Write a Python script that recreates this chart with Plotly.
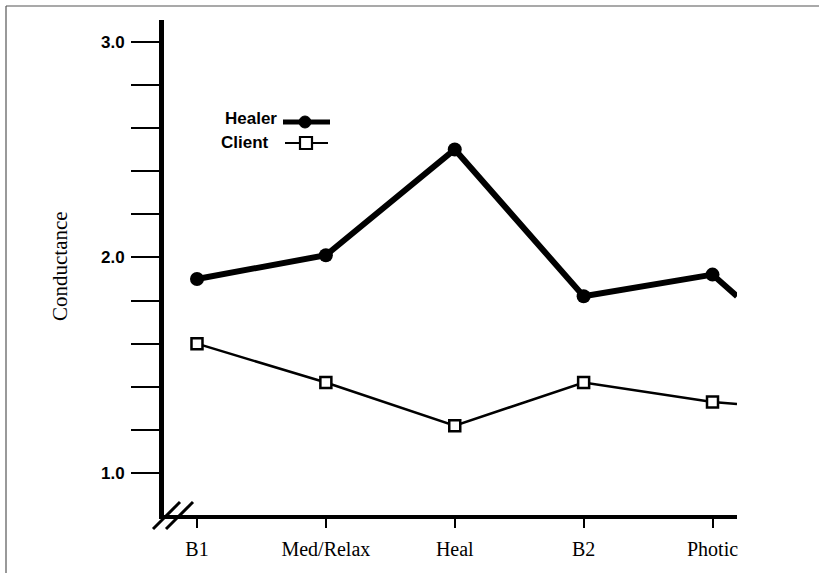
import plotly.graph_objects as go

# ---- data ----
categories = ["B1", "Med/Relax", "Heal", "B2", "Photic"]
healer = [1.90, 2.01, 2.50, 1.82, 1.92]
client = [1.60, 1.42, 1.22, 1.42, 1.33]
# values where the lines are cut off just to the right of "Photic"
healer_tail = 1.82
client_tail = 1.32
tail_offset = 0.19  # fraction of a category step past the last category

y_tickvals = [1.0, 1.2, 1.4, 1.6, 1.8, 2.0, 2.2, 2.4, 2.6, 2.8, 3.0]
y_ticktext = ["1.0", "", "", "", "", "2.0", "", "", "", "", "3.0"]

W, H = 819, 573
ML, MT = 164, 20
MR = W - 737
MB = H - 515
PW, PH = W - ML - MR, H - MT - MB


def px(x):
    return (x - ML) / PW


def py(y):
    return (H - MB - y) / PH


xs = list(range(len(categories)))
x_line = xs + [xs[-1] + tail_offset]

fig = go.Figure()
fig.add_trace(go.Scatter(
    x=x_line, y=healer + [healer_tail], mode="lines+markers",
    line=dict(color="black", width=6),
    marker=dict(symbol="circle", size=[14] * len(xs) + [0], color="black",
                line=dict(width=0), opacity=1),
    showlegend=False, hoverinfo="skip"))
fig.add_trace(go.Scatter(
    x=x_line, y=client + [client_tail], mode="lines+markers",
    line=dict(color="black", width=2.5),
    marker=dict(symbol="square", size=[11] * len(xs) + [0], color="white",
                line=dict(color="black", width=2.5), opacity=1),
    showlegend=False, hoverinfo="skip"))

shapes = []
# frame (top and left edges of the scanned page)
shapes.append(dict(type="line", xref="paper", yref="paper",
                   x0=px(6), x1=px(830), y0=py(6), y1=py(6),
                   line=dict(color="#555", width=1.2)))
shapes.append(dict(type="line", xref="paper", yref="paper",
                   x0=px(6), x1=px(6), y0=py(6), y1=py(580),
                   line=dict(color="#555", width=1.2)))
# axis break slashes
for dx in (0, 13):
    shapes.append(dict(type="line", xref="paper", yref="paper",
                       x0=px(153 + dx), x1=px(180 + dx), y0=py(529), y1=py(502),
                       line=dict(color="black", width=3)))
# legend samples
shapes.append(dict(type="line", xref="paper", yref="paper",
                   x0=px(283), x1=px(330), y0=py(122), y1=py(122),
                   line=dict(color="black", width=5)))
shapes.append(dict(type="circle", xref="paper", yref="paper",
                   x0=px(299), x1=px(311), y0=py(116), y1=py(128),
                   fillcolor="black", line=dict(color="black", width=1)))
shapes.append(dict(type="line", xref="paper", yref="paper",
                   x0=px(285), x1=px(328), y0=py(143), y1=py(143),
                   line=dict(color="black", width=2.2)))
shapes.append(dict(type="rect", xref="paper", yref="paper",
                   x0=px(300), x1=px(312), y0=py(137), y1=py(149),
                   fillcolor="white", line=dict(color="black", width=2.2)))

annotations = [
    dict(text="<b>Healer</b>", xref="paper", yref="paper", x=px(279), y=py(119),
         xanchor="right", yanchor="middle", showarrow=False,
         font=dict(family="Liberation Sans, Arial", size=17, color="black")),
    dict(text="<b>Client</b>", xref="paper", yref="paper", x=px(271), y=py(142),
         xanchor="right", yanchor="middle", showarrow=False,
         font=dict(family="Liberation Sans, Arial", size=17, color="black")),
    dict(text="Conductance", xref="paper", yref="paper", x=px(60), y=py(266),
         xanchor="center", yanchor="middle", showarrow=False, textangle=-90,
         font=dict(family="Liberation Serif, Times New Roman", size=21, color="black")),
]

fig.update_layout(
    width=W, height=H,
    margin=dict(l=ML, r=MR, t=MT, b=MB, pad=0),
    paper_bgcolor="white", plot_bgcolor="white",
    shapes=shapes, annotations=annotations,
    xaxis=dict(range=[-0.256, xs[-1] + tail_offset], tickvals=xs, ticktext=categories,
               showgrid=False, zeroline=False, showline=True, linecolor="black",
               linewidth=4, ticks="outside", ticklen=9, tickwidth=2, tickcolor="black",
               ticklabelstandoff=4,
               tickfont=dict(family="Liberation Serif, Times New Roman", size=20, color="black")),
    yaxis=dict(range=[0.806, 3.1], tickvals=y_tickvals, ticktext=y_ticktext,
               showgrid=False, zeroline=False, showline=True, linecolor="black",
               linewidth=5, ticks="outside", ticklen=28, tickwidth=2, tickcolor="black",
               ticklabelstandoff=3,
               tickfont=dict(family="Liberation Sans, Arial", size=17, color="black",
                             weight="bold")),
)

fig.write_html(
    "out.html",
    config={"displayModeBar": False},
    post_script="document.body.style.margin='0';document.body.style.overflow='hidden';",
)
